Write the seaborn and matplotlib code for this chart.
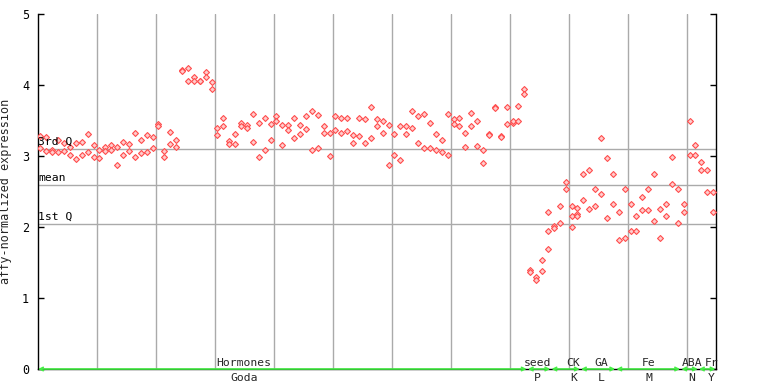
import numpy as np
import pandas as pd
import matplotlib
matplotlib.use("Agg")
import matplotlib.pyplot as plt
import matplotlib.transforms as mtransforms
import seaborn as sns

# ---- data: replicate values per sample (sample order along the x axis) ----
sample_values = [
    [3.28, 3.11], [3.27, 3.07], [3.09, 3.06], [3.23, 3.06], [3.19, 3.07],
    [3.13, 3.01], [3.18, 2.96], [3.20, 3.02], [3.31, 3.05], [3.16, 2.98],
    [3.08, 2.97], [3.12, 3.07], [3.15, 3.08], [2.87, 3.12], [3.20, 3.01],
    [3.17, 3.07], [3.32, 2.98], [3.23, 3.04], [3.29, 3.06], [3.27, 3.11],
    [3.45, 3.42], [3.07, 2.98], [3.34, 3.17], [3.23, 3.12], [4.21, 4.20],
    [4.24, 4.05], [4.11, 4.05], [4.06, 4.06], [4.19, 4.11], [4.04, 3.94],
    [3.39, 3.29], [3.53, 3.42], [3.21, 3.17], [3.31, 3.17], [3.46, 3.42],
    [3.43, 3.40], [3.59, 3.20], [3.46, 2.98], [3.54, 3.08], [3.45, 3.22],
    [3.57, 3.50], [3.43, 3.16], [3.43, 3.36], [3.53, 3.25], [3.44, 3.31],
    [3.56, 3.38], [3.63, 3.09], [3.58, 3.11], [3.42, 3.32], [3.33, 3.00],
    [3.57, 3.36], [3.53, 3.32], [3.53, 3.35], [3.30, 3.18], [3.54, 3.28],
    [3.52, 3.19], [3.69, 3.26], [3.52, 3.42], [3.50, 3.32], [3.43, 2.88],
    [3.31, 3.02], [3.42, 2.94], [3.42, 3.31], [3.64, 3.40], [3.57, 3.18],
    [3.59, 3.11], [3.47, 3.11], [3.31, 3.09], [3.23, 3.05], [3.59, 3.01],
    [3.52, 3.45], [3.53, 3.42], [3.32, 3.12], [3.61, 3.42], [3.50, 3.14],
    [3.09, 2.90], [3.31, 3.30], [3.69, 3.68], [3.28, 3.27], [3.69, 3.45],
    [3.46, 3.50], [3.71, 3.50], [3.95, 3.88],
    # seed
    [1.40, 1.37], [1.29, 1.25], [1.54, 1.38], [2.21, 1.94, 1.69],
    # CK
    [2.02, 1.98], [2.29, 2.05], [2.64, 2.53], [2.29, 2.15, 2.00], [2.27, 2.19, 2.15],
    # GA
    [2.75, 2.38], [2.80, 2.26], [2.54, 2.29], [3.26, 2.46], [2.97, 2.12], [2.74, 2.33],
    # Fe
    [2.21, 1.81], [2.54, 1.85], [2.33, 1.95], [2.15, 1.95], [2.42, 2.24], [2.54, 2.24],
    [2.74, 2.09], [2.25, 1.84], [2.32, 2.15], [2.99, 2.60], [2.53, 2.05],
    # ABA
    [2.33, 2.21], [3.49, 3.01], [3.15, 3.01],
    # Fr
    [2.91, 2.80], [2.80, 2.49], [2.50, 2.21],
]

group_names = ["Hormones", "seed", "CK", "GA", "Fe", "ABA", "Fr"]
group_codes = ["Goda", "P", "K", "L", "M", "N", "Y"]
group_sizes = [83, 4, 5, 6, 11, 3, 3]

q3_value = 3.10
mean_value = 2.59
q1_value = 2.04

# ---- layout ----
group_label_x = [35.0, 84.7, 90.8, 95.6, 103.6, 110.9, 114.2]

rows = []
for i, vals in enumerate(sample_values):
    for v in vals:
        rows.append({"sample": i + 0.5, "value": v})
df = pd.DataFrame(rows)
n_samples = len(sample_values)

sns.set_style("white")
plt.rcParams["font.family"] = ["DejaVu Sans Mono"]

fig = plt.figure(figsize=(7.68, 3.84), dpi=100)
ax = fig.add_axes([37.5 / 768, 1 - 369 / 384, 678 / 768, 355 / 384])

# vertical grid lines every 10 samples
for gx in range(10, n_samples, 10):
    ax.axvline(gx, color="#aaaaaa", lw=1.0, zorder=1)
for yv in (q3_value, mean_value, q1_value):
    ax.axhline(yv, color="#aaaaaa", lw=1.0, zorder=1)

sns.scatterplot(data=df, x="sample", y="value", ax=ax, marker="D", s=9,
                facecolor="#ffcccc", edgecolor="#ff4d4d", linewidth=0.8,
                zorder=3, legend=False)

ax.set_xlim(0, n_samples - 0.1)
ax.set_ylim(0, 5)
ax.set_yticks([0, 1, 2, 3, 4, 5])
ax.set_xticks([])
ax.set_xlabel("")
ax.set_ylabel("affy-normalized expression", fontsize=8.5, labelpad=7)
ax.tick_params(axis="y", direction="in", length=4, width=1, labelsize=8.5,
               right=True, left=True, colors="black", pad=6)
for side in ("left", "right", "bottom"):
    ax.spines[side].set_visible(True)
    ax.spines[side].set_color("black")
    ax.spines[side].set_linewidth(1.0)
ax.spines["top"].set_visible(False)

# quartile labels
trans = mtransforms.blended_transform_factory(ax.transAxes, ax.transData)
for label, yv in (("3rd Q", q3_value), ("mean", mean_value), ("1st Q", q1_value)):
    ax.text(0.001, yv + 0.03, label, transform=trans, fontsize=8.2,
            ha="left", va="bottom", color="black", zorder=4)

# group segments along the bottom
green = "#44ee44"
start = 0
for name, code, size, lx in zip(group_names, group_codes, group_sizes, group_label_x):
    end = start + size
    ax.annotate("", xy=(end - 0.1, 0), xytext=(start + 0.1, 0),
                arrowprops=dict(arrowstyle="<->", color=green, lw=1.2,
                                mutation_scale=6, shrinkA=0, shrinkB=0),
                annotation_clip=False, zorder=5)
    ax.text(lx, 0.02, name, fontsize=8.2, ha="center", va="bottom",
            clip_on=False, zorder=6)
    ax.text(lx, -0.06, code, fontsize=8.2, ha="center", va="top",
            clip_on=False, zorder=6)
    start = end

fig.savefig("out.png", dpi=100)
